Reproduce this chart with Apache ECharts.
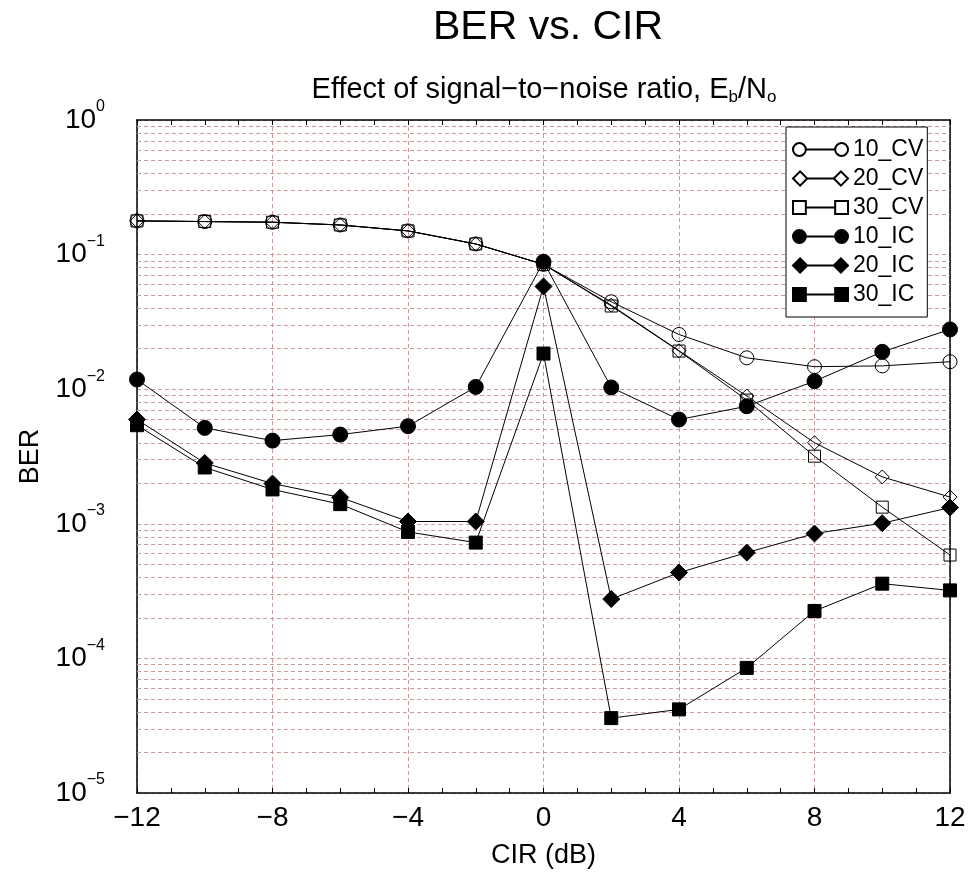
<!DOCTYPE html>
<html>
<head>
<meta charset="utf-8">
<script src="https://cdn.jsdelivr.net/npm/echarts@6/dist/echarts.min.js"></script>
<style>
  html, body { margin: 0; padding: 0; background: #fff; }
  #chart { width: 973px; height: 878px; }
</style>
</head>
<body>
<div id="chart"></div>
<script>
// Carrier-to-interference ratio (dB)
const cir = [-12, -10, -8, -6, -4, -2, 0, 2, 4, 6, 8, 10, 12];

// Bit error rate per receiver / Eb/No setting
const ber10CV = [0.178, 0.176, 0.174, 0.166, 0.150, 0.120, 0.0846, 0.0446, 0.0255, 0.0171, 0.0147, 0.0149, 0.0160];
const ber20CV = [0.178, 0.176, 0.174, 0.166, 0.150, 0.120, 0.0846, 0.0421, 0.0193, 0.0089, 0.0040, 0.00223, 0.00158];
const ber30CV = [0.178, 0.176, 0.174, 0.166, 0.150, 0.120, 0.0846, 0.0415, 0.0192, 0.0083, 0.00318, 0.00133, 0.000586];
const ber10IC = [0.0118, 0.00516, 0.00415, 0.0046, 0.00531, 0.0104, 0.0885, 0.0103, 0.00595, 0.00747, 0.01147, 0.01895, 0.0278];
const ber20IC = [0.00595, 0.00283, 0.00199, 0.00157, 0.00104, 0.00104, 0.058, 0.000276, 0.000434, 0.000611, 0.000846, 0.00101, 0.00132];
const ber30IC = [0.0054, 0.00262, 0.0018, 0.0014, 0.00087, 0.000725, 0.0184, 0.000036, 0.0000418, 0.000085, 0.000225, 0.000359, 0.00032];

const seriesNames = ['10_CV', '20_CV', '30_CV', '10_IC', '20_IC', '30_IC'];

// minor log grid: 2..9 within each decade
const minorGrid = [];
for (let e = -5; e < 0; e++) {
  for (let m = 2; m <= 9; m++) minorGrid.push(Number((m * Math.pow(10, e)).toPrecision(3)));
}

const FONT = '"Liberation Sans", Arial, Helvetica, sans-serif';
const GRID_COLOR = '#c99a9a';

function pairs(ys) { return cir.map((x, i) => [x, ys[i]]); }

// legend icons: marker - line - marker
const ICON_CIRCLE = 'path://M1,8 A7,7 0 1,1 15,8 A7,7 0 1,1 1,8 Z M15,8 L47,8 M47,8 A7,7 0 1,1 61,8 A7,7 0 1,1 47,8 Z';
const ICON_DIAMOND = 'path://M0,8 L8,0 L16,8 L8,16 Z M16,8 L46,8 M46,8 L54,0 L62,8 L54,16 Z';
const ICON_SQUARE = 'path://M1,1 L15,1 L15,15 L1,15 Z M15,8 L47,8 M47,1 L61,1 L61,15 L47,15 Z';

function lineSeries(name, ys, symbol, size, hollow) {
  return {
    name: name,
    type: 'line',
    data: pairs(ys),
    symbol: symbol,
    symbolSize: size,
    showAllSymbol: true,
    lineStyle: { color: '#000', width: 1 },
    itemStyle: hollow
      ? { color: 'rgba(255,255,255,0)', borderColor: '#000', borderWidth: 1 }
      : { color: '#000', borderColor: '#000', borderWidth: 1 },
    emphasis: { disabled: true },
    z: 3
  };
}

const series = [
  lineSeries(seriesNames[0], ber10CV, 'circle', 14, true),
  lineSeries(seriesNames[1], ber20CV, 'diamond', 14, true),
  lineSeries(seriesNames[2], ber30CV, 'rect', 12, true),
  lineSeries(seriesNames[3], ber10IC, 'circle', 15, false),
  lineSeries(seriesNames[4], ber20IC, 'diamond', 17, false),
  lineSeries(seriesNames[5], ber30IC, 'rect', 13, false)
];

// dotted minor horizontal grid lines on the log axis
series[0].markLine = {
  silent: true,
  precision: 10,
  symbol: ['none', 'none'],
  label: { show: false },
  lineStyle: { color: GRID_COLOR, type: [4, 3], width: 1 },
  emphasis: { disabled: true },
  animation: false,
  data: minorGrid.map(v => ({ yAxis: v })),
  z: 1
};

function supLabel(v) {
  const e = Math.round(Math.log10(v));
  return '{b|10}{s|' + (e === 0 ? '0' : '\u2212' + (-e)) + '}';
}

const chart = echarts.init(document.getElementById('chart'), null, { renderer: 'canvas' });
chart.setOption({
  animation: false,
  backgroundColor: '#fff',
  textStyle: { fontFamily: FONT, color: '#000' },
  title: [
    {
      text: 'BER vs. CIR',
      left: 543, top: 2, textAlign: 'center',
      textStyle: { fontFamily: FONT, fontSize: 41, fontWeight: 'normal', color: '#000' }
    },
    {
      text: '{a|Effect of signal\u2212to\u2212noise ratio, E}{s|b}{a|/N}{s|o}',
      left: 539, top: 69, textAlign: 'center',
      textStyle: {
        fontFamily: FONT, fontWeight: 'normal', color: '#000',
        rich: {
          a: { fontFamily: FONT, fontSize: 29, color: '#000', lineHeight: 32 },
          s: { fontFamily: FONT, fontSize: 17, color: '#000', lineHeight: 32, padding: [14, 0, 0, 0] }
        }
      }
    }
  ],
  legend: {
    orient: 'vertical',
    left: 786, top: 127,
    padding: [11, 4, 11, 6],
    itemGap: 6,
    itemWidth: 55,
    itemHeight: 15,
    backgroundColor: '#fff',
    borderColor: '#000',
    borderWidth: 1,
    borderRadius: 0,
    selectedMode: false,
    textStyle: { fontFamily: FONT, fontSize: 23, color: '#000', lineHeight: 23 },
    data: [
      { name: seriesNames[0], icon: ICON_CIRCLE },
      { name: seriesNames[1], icon: ICON_DIAMOND },
      { name: seriesNames[2], icon: ICON_SQUARE },
      { name: seriesNames[3], icon: ICON_CIRCLE },
      { name: seriesNames[4], icon: ICON_DIAMOND },
      { name: seriesNames[5], icon: ICON_SQUARE }
    ]
  },
  grid: { left: 137, right: 23, top: 120, bottom: 85, containLabel: false },
  xAxis: [
    {
      type: 'value', min: -12, max: 12, interval: 4,
      name: 'CIR (dB)', nameLocation: 'middle', nameGap: 49,
      nameTextStyle: { fontFamily: FONT, fontSize: 27, color: '#000' },
      axisLine: { show: true, onZero: false, lineStyle: { color: '#000', width: 1.5 } },
      axisTick: { show: true, inside: true, length: 5, lineStyle: { color: '#000' } },
      minorTick: { show: true, splitNumber: 4, length: 5, lineStyle: { color: '#000' } },
      axisLabel: {
        fontFamily: FONT, fontSize: 28, color: '#000', margin: 11,
        formatter: v => (v < 0 ? '\u2212' + (-v) : String(v))
      },
      splitLine: { show: true, lineStyle: { color: GRID_COLOR, type: [4, 3], width: 1 } }
    },
    {
      type: 'value', min: -12, max: 12, interval: 4, position: 'top',
      axisLine: { show: true, onZero: false, lineStyle: { color: '#000', width: 1.5 } },
      axisTick: { show: true, inside: true, length: 5, lineStyle: { color: '#000' } },
      minorTick: { show: true, splitNumber: 4, length: 5, lineStyle: { color: '#000' } },
      axisLabel: { show: false },
      splitLine: { show: false }
    }
  ],
  yAxis: [
    {
      type: 'log', logBase: 10, min: 1e-5, max: 1,
      name: 'BER', nameLocation: 'middle', nameGap: 93, nameRotate: 90,
      nameTextStyle: { fontFamily: FONT, fontSize: 27, color: '#000' },
      axisLine: { show: true, onZero: false, lineStyle: { color: '#000', width: 1.5 } },
      axisTick: { show: false },
      axisLabel: {
        margin: 32,
        formatter: supLabel,
        rich: {
          b: { fontFamily: FONT, fontSize: 28, color: '#000', lineHeight: 30 },
          s: { fontFamily: FONT, fontSize: 16, color: '#000', lineHeight: 30, padding: [0, 0, 26, 0] }
        }
      },
      splitLine: { show: true, lineStyle: { color: GRID_COLOR, type: [4, 3], width: 1 } }
    },
    {
      type: 'log', logBase: 10, min: 1e-5, max: 1, position: 'right',
      axisLine: { show: true, onZero: false, lineStyle: { color: '#000', width: 1.5 } },
      axisTick: { show: false },
      axisLabel: { show: false },
      splitLine: { show: false }
    }
  ],
  series: series
});
</script>
</body>
</html>
